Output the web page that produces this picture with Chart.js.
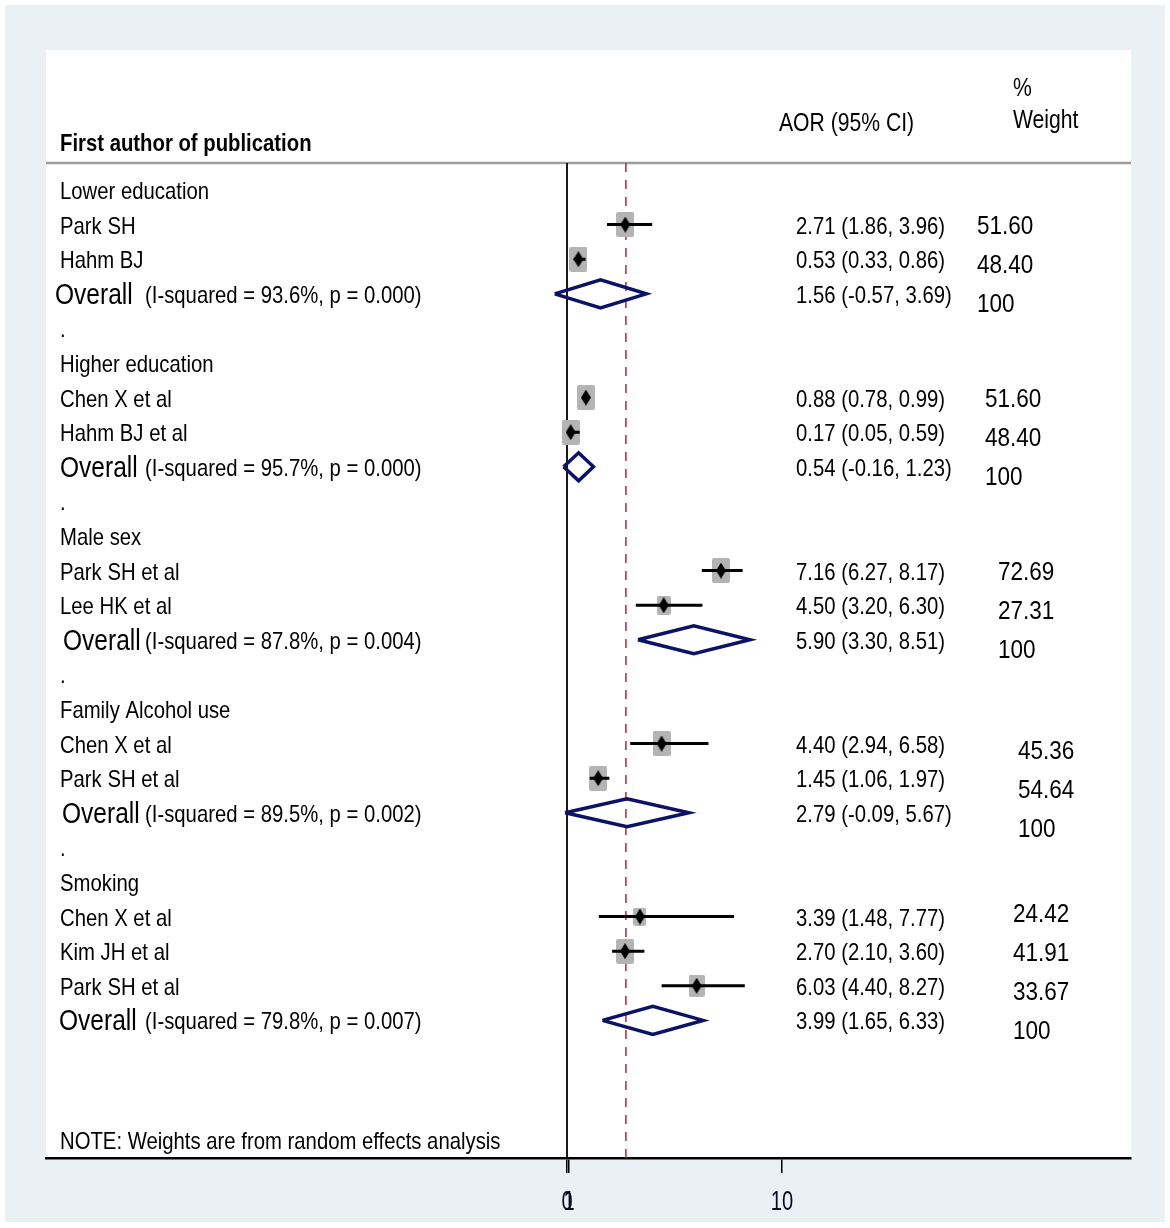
<!DOCTYPE html>
<html>
<head>
<meta charset="utf-8">
<script src="https://cdn.jsdelivr.net/npm/chart.js@4.4.1/dist/chart.umd.min.js"></script>
<style>
  html, body { margin: 0; padding: 0; background: #fff; }
  canvas { display: block; }
</style>
</head>
<body>
<canvas id="forest" width="1170" height="1228"></canvas>
<script>
// subgroups and studies
const groups = ['Lower education', 'Higher education', 'Male sex', 'Family Alcohol use', 'Smoking'];
const studyGroup = [0, 0, 1, 1, 2, 2, 3, 3, 4, 4, 4];
const studyNames = ['Park SH', 'Hahm BJ', 'Chen X et al', 'Hahm BJ et al', 'Park SH et al', 'Lee HK et al',
                    'Chen X et al', 'Park SH et al', 'Chen X et al', 'Kim JH et al', 'Park SH et al'];
const studyAOR  = [2.71, 0.53, 0.88, 0.17, 7.16, 4.50, 4.40, 1.45, 3.39, 2.70, 6.03];
const studyLow  = [1.86, 0.33, 0.78, 0.05, 6.27, 3.20, 2.94, 1.06, 1.48, 2.10, 4.40];
const studyHigh = [3.96, 0.86, 0.99, 0.59, 8.17, 6.30, 6.58, 1.97, 7.77, 3.60, 8.27];
const studyWeight = [51.60, 48.40, 51.60, 48.40, 72.69, 27.31, 45.36, 54.64, 24.42, 41.91, 33.67];

// pooled (random effects) per subgroup
const pooledAOR  = [1.56, 0.54, 5.90, 2.79, 3.99];
const pooledLow  = [-0.57, -0.16, 3.30, -0.09, 1.65];
const pooledHigh = [3.69, 1.23, 8.51, 5.67, 6.33];
const iSquared = ['93.6%', '95.7%', '87.8%', '89.5%', '79.8%'];
const pValues  = ['0.000', '0.000', '0.004', '0.002', '0.007'];

const refLine = 2.74;
const tickValues = [0, 0.1, 10];
const tickLabels = ['0', '1', '10'];

// ---- layout (pixels) ----
const ZERO_PX = 567, TEN_PX = 782;
const AREA = { left: 46, right: 1131, top: 50, bottom: 1158 };
const ROW0_PX = 190, ROW_PX = 34.6;
const unit = (TEN_PX - ZERO_PX) / 10;
const X_MIN = -(ZERO_PX - AREA.left) / unit;
const X_MAX = X_MIN + (AREA.right - AREA.left) / unit;
const Y_MIN = (AREA.top - ROW0_PX) / ROW_PX;
const Y_MAX = (AREA.bottom - ROW0_PX) / ROW_PX;
const HEADER_ROW = (163 - ROW0_PX) / ROW_PX;
const NOTE_ROW = (1140 - ROW0_PX) / ROW_PX;
const overallX = [55, 60, 63, 62, 59];
const weightX = [977, 985, 998, 1018, 1013];
const weightDy = [0, 0, 0, 6, -4];

// rows: heading, studies, overall, spacer '.'
const headingRow = [], overallRow = [], dotRow = [], studyRow = [];
let r = 0;
groups.forEach((g, gi) => {
  headingRow.push(r++);
  studyGroup.forEach((sg, si) => { if (sg === gi) studyRow[si] = r++; });
  overallRow.push(r++);
  if (gi < groups.length - 1) dotRow.push(r++);
});

const FONT = '"Liberation Sans", Arial, sans-serif';
const SQUASH = 0.846;

function drawText(ctx, txt, x, y, size, o = {}) {
  ctx.save();
  ctx.font = (o.bold ? 'bold ' : '') + size + 'px ' + FONT;
  ctx.fillStyle = o.color || '#000';
  ctx.textAlign = o.align || 'left';
  ctx.textBaseline = 'alphabetic';
  ctx.translate(x, y);
  ctx.scale(o.squash || SQUASH, 1);
  ctx.fillText(txt, 0, 0);
  ctx.restore();
}

function boxStyle(w) {
  const bw = Math.round(Math.min(18, 6 + w * 0.3));
  const bh = Math.round(bw * 1.38);
  const c = document.createElement('canvas');
  c.width = bw; c.height = bh;
  const g = c.getContext('2d');
  g.fillStyle = '#b4b4b4';
  g.beginPath();
  g.roundRect(0, 0, bw, bh, 2);
  g.fill();
  return c;
}

function diamondStyle() {
  const c = document.createElement('canvas');
  c.width = 10; c.height = 16;
  const g = c.getContext('2d');
  g.fillStyle = '#000';
  g.beginPath();
  g.moveTo(5, 0); g.lineTo(10, 8); g.lineTo(5, 16); g.lineTo(0, 8);
  g.closePath();
  g.fill();
  return c;
}

const gap = { x: null, y: null };
const points = studyAOR.map((v, i) => ({ x: v, y: studyRow[i] }));
const ciLines = [];
studyAOR.forEach((v, i) => {
  ciLines.push({ x: studyLow[i], y: studyRow[i] }, { x: studyHigh[i], y: studyRow[i] }, gap);
});
const halfH = 14 / ROW_PX;
const pooledShapes = [];
pooledAOR.forEach((v, g) => {
  const y = overallRow[g];
  pooledShapes.push(
    { x: pooledLow[g], y: y }, { x: v, y: y - halfH }, { x: pooledHigh[g], y: y },
    { x: v, y: y + halfH }, { x: pooledLow[g], y: y }, gap);
});

const textPlugin = {
  id: 'forestText',
  beforeDraw(chart) {
    const { ctx, chartArea: a } = chart;
    const ys = chart.scales.y;
    ctx.save();
    ctx.fillStyle = '#fff';
    ctx.fillRect(0, 0, chart.width, chart.height);
    ctx.fillStyle = '#e9f1f4';
    ctx.fillRect(5, 5, chart.width - 10, chart.height - 11);
    ctx.fillStyle = '#fff';
    ctx.fillRect(a.left, a.top, a.right - a.left, a.bottom - a.top);
    const hy = ys.getPixelForValue(HEADER_ROW);
    ctx.strokeStyle = '#9c9c9c';
    ctx.lineWidth = 2.5;
    ctx.beginPath();
    ctx.moveTo(a.left, hy); ctx.lineTo(a.right, hy);
    ctx.stroke();
    ctx.restore();
  },
  afterDraw(chart) {
    const { ctx } = chart;
    const ys = chart.scales.y, xs = chart.scales.x;
    const py = row => ys.getPixelForValue(row);

    // header
    drawText(ctx, 'First author of publication', 60, 151, 24, { bold: true });
    drawText(ctx, 'AOR (95% CI)', 779, 131, 25);
    drawText(ctx, '%', 1013, 96, 25);
    drawText(ctx, 'Weight', 1013, 128, 25);

    groups.forEach((g, gi) => {
      drawText(ctx, g, 60, py(headingRow[gi]) + 9, 24);
      const rows = [];
      studyGroup.forEach((sg, si) => { if (sg === gi) rows.push(si); });
      const wy0 = py(studyRow[rows[0]]) + weightDy[gi];
      rows.forEach((si, k) => {
        const y = py(studyRow[si]);
        drawText(ctx, studyNames[si], 60, y + 9, 24);
        drawText(ctx, studyAOR[si].toFixed(2) + ' (' + studyLow[si].toFixed(2) + ', ' + studyHigh[si].toFixed(2) + ')',
                 796, y + 9, 24);
        drawText(ctx, studyWeight[si].toFixed(2), weightX[gi], wy0 + k * 39 + 9, 25, { squash: 0.9 });
      });
      const oy = py(overallRow[gi]);
      drawText(ctx, 'Overall', overallX[gi], oy + 10, 29);
      drawText(ctx, '(I-squared = ' + iSquared[gi] + ', p = ' + pValues[gi] + ')', 145, oy + 9, 24);
      drawText(ctx, pooledAOR[gi].toFixed(2) + ' (' + pooledLow[gi].toFixed(2) + ', ' + pooledHigh[gi].toFixed(2) + ')',
               796, oy + 9, 24);
      drawText(ctx, '100', weightX[gi], wy0 + rows.length * 39 + 9, 25, { squash: 0.9 });
    });
    dotRow.forEach(rw => drawText(ctx, '.', 60, py(rw) + 9, 24));

    drawText(ctx, 'NOTE: Weights are from random effects analysis', 60, py(NOTE_ROW) + 9, 24);

    // x tick labels
    xs.ticks.forEach((t, i) => {
      drawText(ctx, tickLabels[i], xs.getPixelForValue(t.value), 1210, 28, { align: 'center', squash: 0.72, color: '#0b0b1f' });
    });
  }
};

new Chart(document.getElementById('forest'), {
  type: 'scatter',
  data: {
    datasets: [
      { label: 'point', data: points, pointStyle: diamondStyle(), order: 0 },
      { label: 'ci', data: ciLines, showLine: true, borderColor: '#000', borderWidth: 3,
        pointRadius: 0, spanGaps: false, order: 1 },
      { label: 'weight', data: points, pointStyle: studyWeight.map(boxStyle), order: 2 },
      { label: 'pooled', data: pooledShapes, showLine: true, borderColor: '#0c1266', borderWidth: 3.5,
        borderJoinStyle: 'miter', pointRadius: 0, spanGaps: false, order: 3 },
      { label: 'zero', data: [{ x: 0, y: HEADER_ROW }, { x: 0, y: Y_MAX }], showLine: true,
        borderColor: '#000', borderWidth: 1.8, pointRadius: 0, order: 4 },
      { label: 'ref', data: [{ x: refLine, y: HEADER_ROW }, { x: refLine, y: Y_MAX }], showLine: true,
        borderColor: '#b3263b', borderWidth: 1.5, borderDash: [9, 8], pointRadius: 0, order: 5 }
    ]
  },
  options: {
    responsive: false,
    devicePixelRatio: 1,
    animation: false,
    layout: { padding: { left: AREA.left, right: 1170 - AREA.right, top: AREA.top, bottom: 0 } },
    plugins: { legend: { display: false }, tooltip: { enabled: false } },
    scales: {
      x: {
        type: 'linear', min: X_MIN, max: X_MAX,
        afterBuildTicks: s => { s.ticks = tickValues.map(v => ({ value: v })); },
        afterFit: s => { s.height = 1228 - AREA.bottom; },
        ticks: { display: false },
        grid: { drawOnChartArea: false, drawTicks: true, tickLength: 15, color: '#000', lineWidth: 1.5 },
        border: { display: true, color: '#000', width: 2.5 }
      },
      y: { type: 'linear', reverse: true, min: Y_MIN, max: Y_MAX, display: false }
    }
  },
  plugins: [textPlugin]
});
</script>
</body>
</html>
